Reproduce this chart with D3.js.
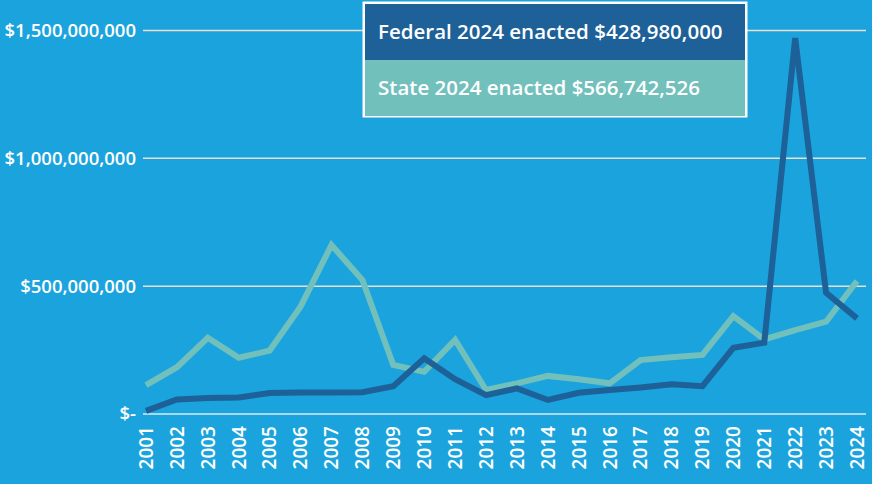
<!DOCTYPE html>
<html lang="en">
<head>
<meta charset="UTF-8">
<title>Federal and State funding</title>
<script src="https://d3js.org/d3.v7.min.js"></script>
<style>
  body { margin: 0; background: #1ba3dd; }
  svg { display: block; font-family: "Open Sans", sans-serif; font-weight: 600; }
</style>
</head>
<body>
<div class="chart"></div>
<script>
// data
var years = ["2001","2002","2003","2004","2005","2006","2007","2008","2009","2010","2011","2012",
             "2013","2014","2015","2016","2017","2018","2019","2020","2021","2022","2023","2024"];
var federal = [12e6, 57e6, 63e6, 65e6, 82e6, 84e6, 84e6, 85e6, 109e6, 218e6, 136e6, 74e6,
               100e6, 55e6, 83e6, 94e6, 104e6, 116e6, 109e6, 259e6, 279e6, 1470e6, 474e6, 374e6];
var state = [113e6, 183e6, 298e6, 220e6, 248e6, 420e6, 661e6, 524e6, 192e6, 165e6, 290e6, 94e6,
             120e6, 149e6, 136e6, 120e6, 211e6, 222e6, 231e6, 383e6, 292e6, 328e6, 361e6, 520e6];
var yTicks = [0, 500e6, 1000e6, 1500e6];
var legendLabels = ["Federal 2024 enacted $428,980,000", "State 2024 enacted $566,742,526"];

var width = 872, height = 484;
var bg = "#1ba3dd", fedColor = "#1d6198", stateColor = "#72c0bc";

var svg = d3.select(".chart").append("svg")
    .attr("width", width)
    .attr("height", height);

svg.append("rect").attr("width", width).attr("height", height).attr("fill", bg);

// scales
var x = d3.scalePoint().domain(years).range([146, 857]);
var y = d3.scaleLinear().domain([0, 1500e6]).range([414, 30.5]);

// gridlines
svg.append("g").selectAll("line")
    .data(yTicks)
  .enter().append("line")
    .attr("x1", 143).attr("x2", 866)
    .attr("y1", d => y(d)).attr("y2", d => y(d))
    .attr("stroke", d => d === 0 ? "#a9d9ef" : "#eadfd2")
    .attr("stroke-width", d => d === 0 ? 2 : 1.5);

// y labels
var fmt = d3.format("$,");
svg.append("g").selectAll("text")
    .data(yTicks)
  .enter().append("text")
    .attr("x", 136)
    .attr("y", d => y(d))
    .attr("dy", "0.35em")
    .attr("text-anchor", "end")
    .attr("fill", "#fff")
    .style("font-size", "18.5px")
    .text(d => d === 0 ? "$-" : fmt(d));

// x labels, rotated
svg.append("g").selectAll("text")
    .data(years)
  .enter().append("text")
    .attr("transform", d => "translate(" + x(d) + ",426) rotate(-90)")
    .attr("dy", "0.36em")
    .attr("text-anchor", "end")
    .attr("fill", "#fff")
    .style("font-size", "19px")
    .text(d => d);

// lines
var line = d3.line()
    .x((d, i) => x(years[i]))
    .y(d => y(d));

svg.append("path")
    .datum(state)
    .attr("fill", "none")
    .attr("stroke", stateColor)
    .attr("stroke-width", 6)
    .attr("d", line);

svg.append("path")
    .datum(federal)
    .attr("fill", "none")
    .attr("stroke", fedColor)
    .attr("stroke-width", 6)
    .attr("d", line);

// legend box
var L = svg.append("g");
L.append("rect")
    .attr("x", 362.5).attr("y", 1.5)
    .attr("width", 385).attr("height", 116)
    .attr("fill", "#fff");
var rows = L.selectAll("g.row")
    .data(legendLabels)
  .enter().append("g")
    .attr("class", "row")
    .attr("transform", (d, i) => "translate(365," + (4 + i * 56) + ")");
rows.append("rect")
    .attr("width", 380)
    .attr("height", 56)
    .attr("fill", (d, i) => i === 0 ? fedColor : stateColor);
rows.append("text")
    .attr("x", 13)
    .attr("y", 28)
    .attr("dy", "0.35em")
    .attr("fill", "#fff")
    .style("font-size", "20.5px")
    .text(d => d);
</script>
</body>
</html>
